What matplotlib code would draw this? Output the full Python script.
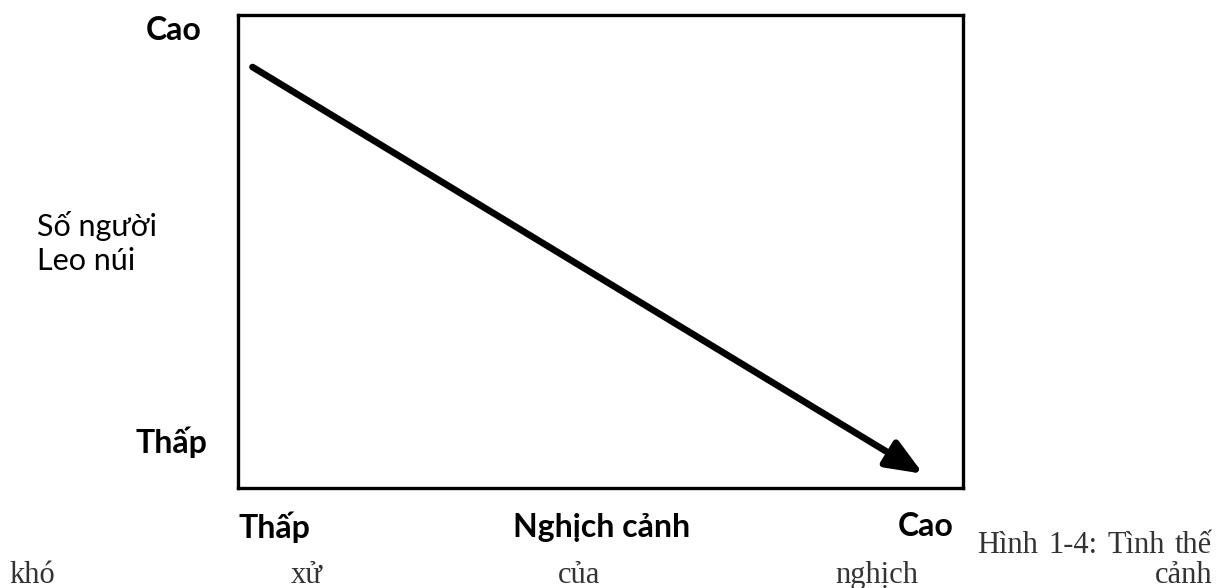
import matplotlib.pyplot as plt
from matplotlib.patches import FancyArrowPatch

# arrow from (low adversity, many climbers) to (high adversity, few climbers)
arrow_x = [0.02, 0.945]
arrow_y = [0.89, 0.03]

y_labels = ['Thấp', 'Cao']
x_labels = ['Thấp', 'Nghịch cảnh', 'Cao']
y_title = 'Số người\nLeo núi'
caption_line1 = ['Hình', '1-4:', 'Tình', 'thế']
caption_line2 = ['khó', 'xử', 'của', 'nghịch', 'cảnh']

W, H = 1225, 588
fig = plt.figure(figsize=(W / 100, H / 100), dpi=100)
ax = fig.add_axes([238 / W, 1 - 488 / H, 725 / W, 473 / H])
ax.set_xlim(0, 1)
ax.set_ylim(0, 1)
ax.set_xticks([])
ax.set_yticks([])
for s in ax.spines.values():
    s.set_linewidth(2.4)
    s.set_color('black')

arr = FancyArrowPatch((arrow_x[0], arrow_y[0]), (arrow_x[1], arrow_y[1]),
                      arrowstyle='-|>,head_length=11,head_width=4.5',
                      mutation_scale=2, lw=4.8, color='black',
                      shrinkA=0, shrinkB=0, capstyle='round')
ax.add_patch(arr)

bold = dict(family='Lato', fontweight='bold', fontsize=23, color='black')
fig.text(174 / W, 1 - 30 / H, y_labels[1], ha='center', va='center', **bold)
fig.text(171 / W, 1 - 442 / H, y_labels[0], ha='center', va='center', **bold)
fig.text(274 / W, 1 - 527 / H, x_labels[0], ha='center', va='center', **bold)
fig.text(602 / W, 1 - 527 / H, x_labels[1], ha='center', va='center', **bold)
fig.text(926 / W, 1 - 527 / H, x_labels[2], ha='center', va='center', **bold)
fig.text(37 / W, 1 - 243 / H, y_title, ha='left', va='center',
         family='Lato', fontsize=22, color='black', linespacing=1.25)

# justified caption text, as in the source page
cap = dict(family='Liberation Serif', fontsize=22, color='#333333')
renderer = fig.canvas.get_renderer()


def justify(words, left, right, y):
    texts = [fig.text(0, 1 - y / H, w, ha='left', va='baseline', **cap) for w in words]
    widths = [t.get_window_extent(renderer).width for t in texts]
    gap = (right - left - sum(widths)) / (len(words) - 1)
    x = left
    for t, w in zip(texts, widths):
        t.set_x(x / W)
        x += w + gap


justify(caption_line1, 977, 1212, 553)
justify(caption_line2, 9, 1212, 583)

fig.savefig('out.png', dpi=100, facecolor='white')
